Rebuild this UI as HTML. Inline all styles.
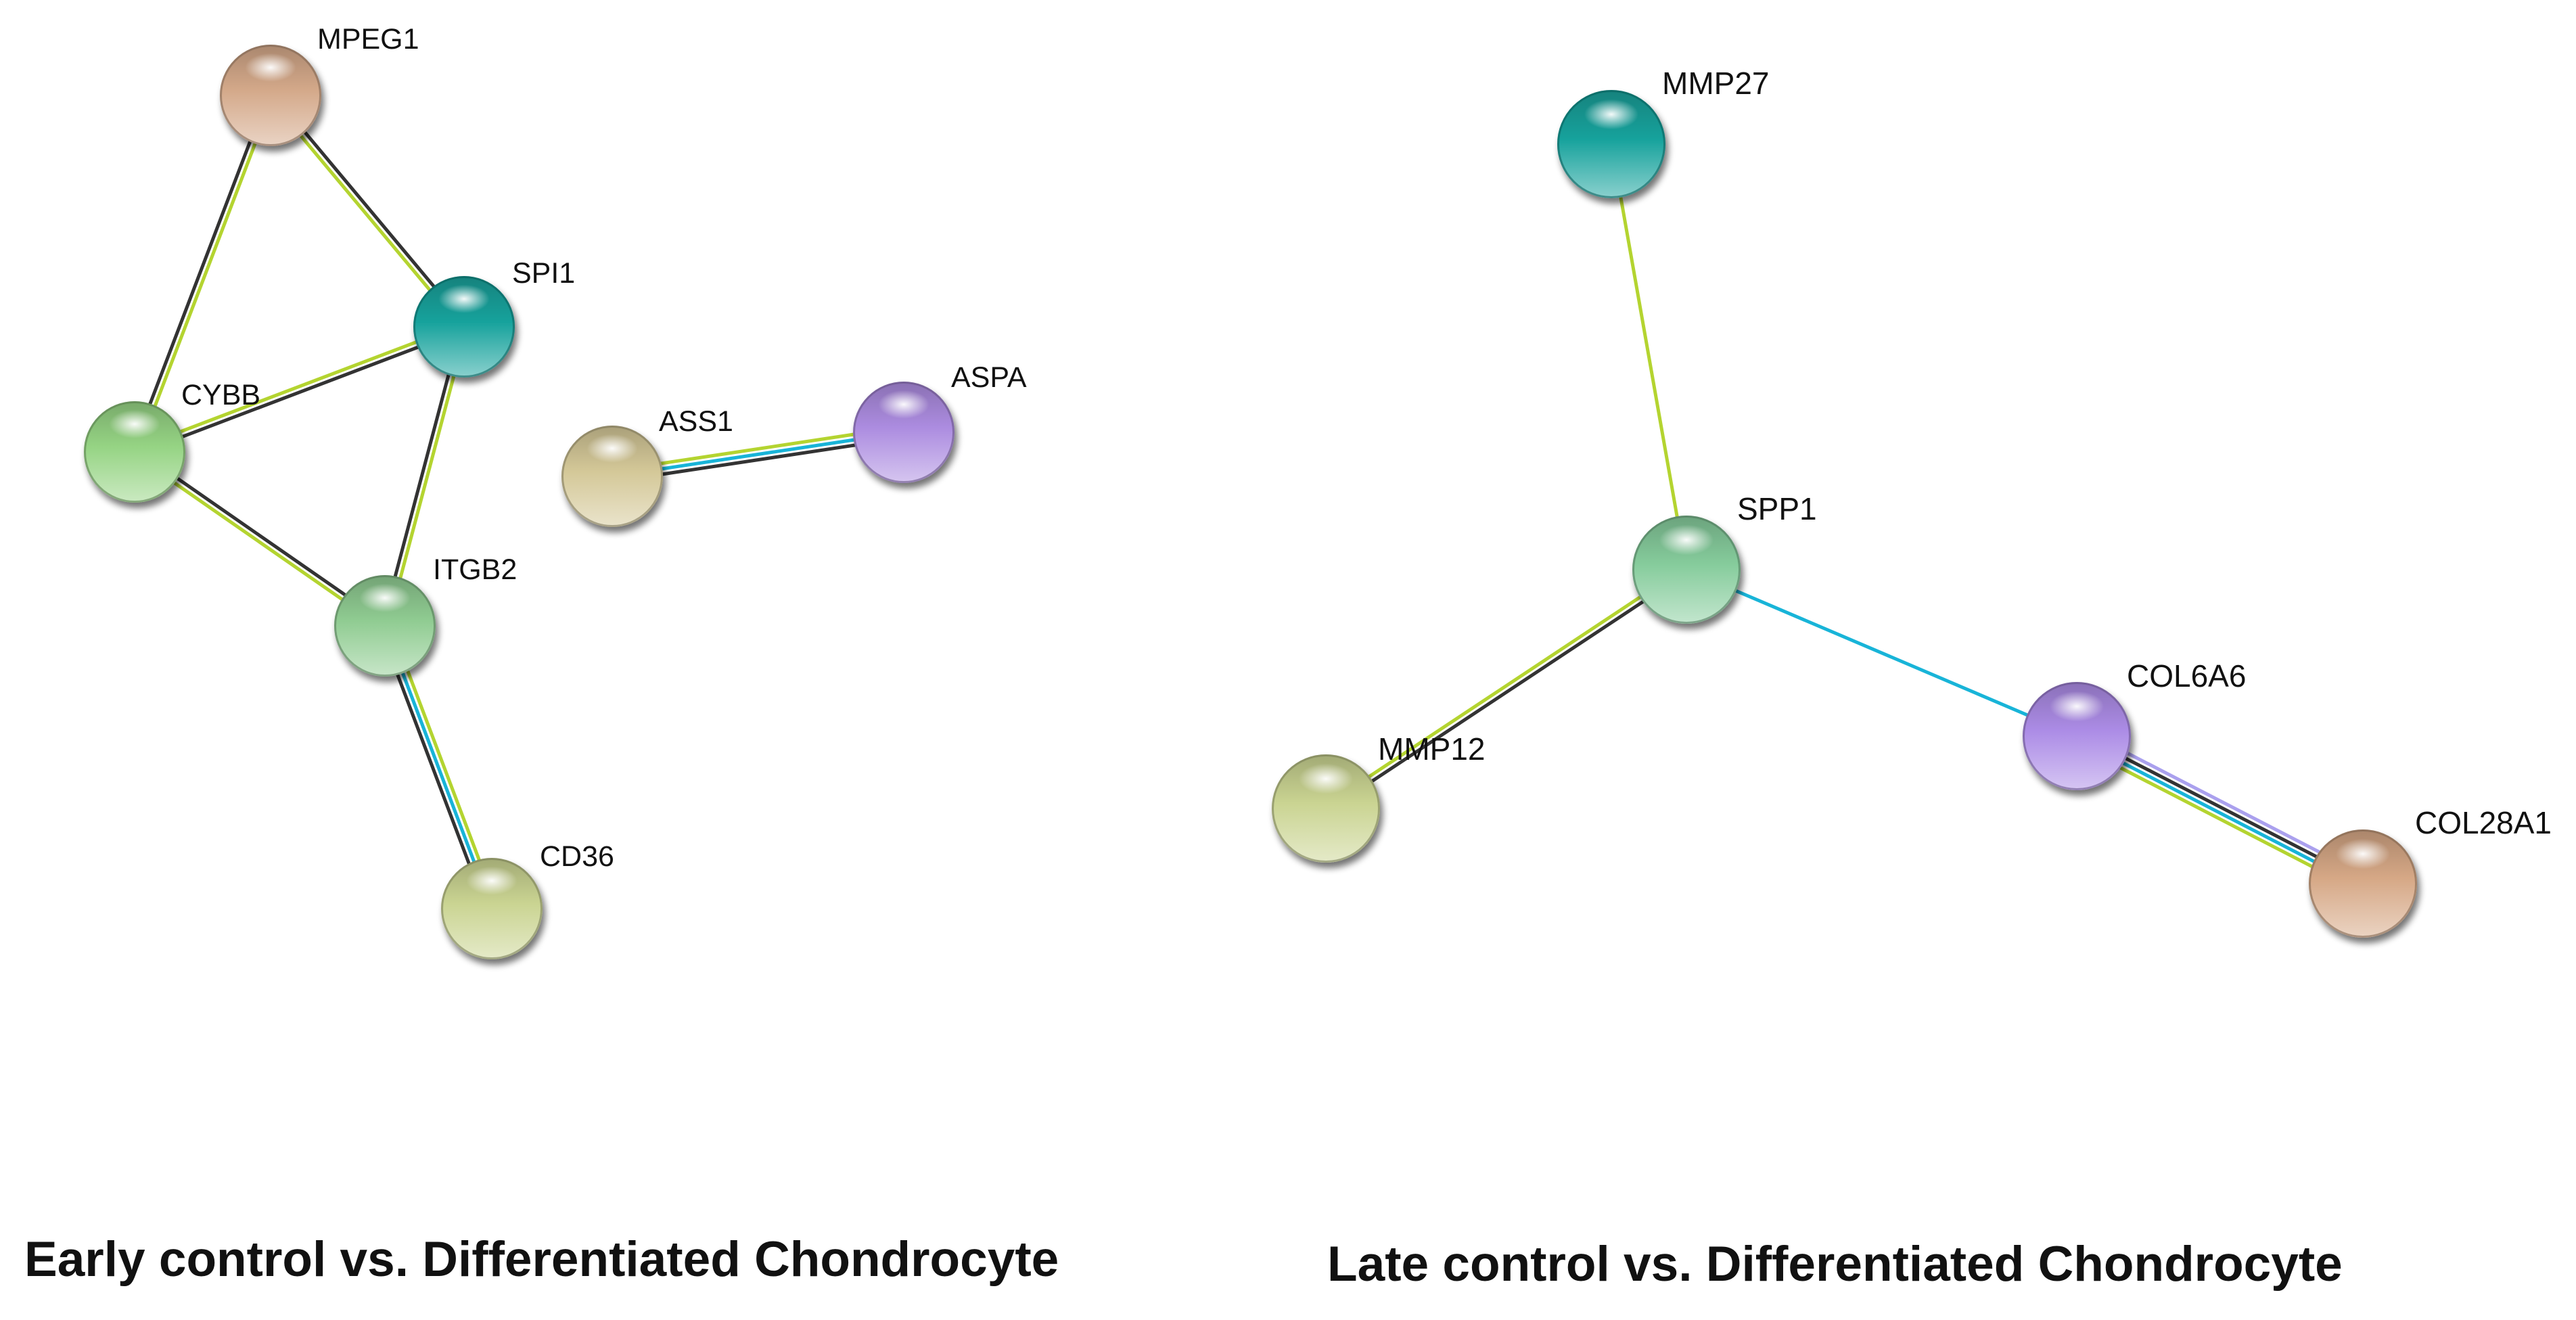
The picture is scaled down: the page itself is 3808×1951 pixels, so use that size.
<!DOCTYPE html>
<html><head><meta charset="utf-8"><style>
html,body{margin:0;padding:0;background:#fff;}
svg{display:block}
text{font-family:"Liberation Sans",Arial,sans-serif;fill:#111}
</style></head><body>
<svg id="s" width="3808" height="1951" viewBox="0 0 3808 1951" xmlns="http://www.w3.org/2000/svg">
<defs>
<filter id="sh" x="-30%" y="-30%" width="170%" height="170%"><feGaussianBlur in="SourceAlpha" stdDeviation="5"/><feOffset dx="4" dy="8"/><feComponentTransfer><feFuncA type="linear" slope="0.55"/></feComponentTransfer><feMerge><feMergeNode/><feMergeNode in="SourceGraphic"/></feMerge></filter>
<radialGradient id="hl" cx="0.5" cy="0.5" r="0.5"><stop offset="0" stop-color="#fff" stop-opacity="0.95"/><stop offset="1" stop-color="#fff" stop-opacity="0"/></radialGradient>
</defs>
<g id="edges"></g>
<g id="nodes"></g>
<text x="36" y="1886" font-size="73" font-weight="bold">Early control vs. Differentiated Chondrocyte</text>
<text x="1962" y="1893" font-size="73" font-weight="bold">Late control vs. Differentiated Chondrocyte</text>
</svg>
<script>
var N={
MPEG1:[400,141,75,'#d4a98a','MPEG1',469,72,43],
SPI1:[686,483,75,'#16a29c','SPI1',757,418,43],
CYBB:[199,668,75,'#96d484','CYBB',268,598,43],
ITGB2:[569,925,75,'#90cc92','ITGB2',640,856,43],
CD36:[727,1343,75,'#cad492','CD36',798,1280,43],
ASS1:[905,704,75,'#d4c898','ASS1',974,637,43],
ASPA:[1336,639,75,'#ac8ce0','ASPA',1406,572,43],
MMP27:[2382,213,80,'#16a29c','MMP27',2457,139,46],
SPP1:[2493,842,80,'#86cc9c','SPP1',2568,768,46],
MMP12:[1960,1195,80,'#cad492','MMP12',2037,1123,46],
COL6A6:[3070,1088,80,'#ac8ce6','COL6A6',3144,1015,46],
COL28A1:[3493,1306,80,'#d6a886','COL28A1',3570,1232,46]
};
var G='#b4d430',K='#333',C='#18b4d8',L='#aaa0ee';
var E=[['MPEG1','CYBB',[G,K]],['MPEG1','SPI1',[K,G]],['CYBB','SPI1',[G,K]],['SPI1','ITGB2',[G,K]],['CYBB','ITGB2',[K,G]],['ITGB2','CD36',[G,C,K]],['ASS1','ASPA',[G,C,K]],
['MMP27','SPP1',[G]],['SPP1','MMP12',[K,G]],['SPP1','COL6A6',[C]],['COL6A6','COL28A1',[L,K,C,G]]];
var ns='http://www.w3.org/2000/svg';
function el(t,a,p){var e=document.createElementNS(ns,t);for(var k in a)e.setAttribute(k,a[k]);p.appendChild(e);return e;}
function mix(h,f){var r=parseInt(h.substr(1,2),16),g=parseInt(h.substr(3,2),16),b=parseInt(h.substr(5,2),16);
r=Math.round(r+(255-r)*f);g=Math.round(g+(255-g)*f);b=Math.round(b+(255-b)*f);return 'rgb('+r+','+g+','+b+')';}
function dark(h,f){var r=parseInt(h.substr(1,2),16),g=parseInt(h.substr(3,2),16),b=parseInt(h.substr(5,2),16);
return 'rgb('+Math.round(r*f)+','+Math.round(g*f)+','+Math.round(b*f)+')';}
var eg=document.getElementById('edges'),ng=document.getElementById('nodes'),svg=document.getElementById('s');
E.forEach(function(e){var a=N[e[0]],b=N[e[1]];var dx=b[0]-a[0],dy=b[1]-a[1],l=Math.hypot(dx,dy);var px=-dy/l,py=dx/l;var n=e[2].length,sp=8;
e[2].forEach(function(c,i){var o=(i-(n-1)/2)*sp;el('line',{x1:a[0]+px*o,y1:a[1]+py*o,x2:b[0]+px*o,y2:b[1]+py*o,stroke:c,'stroke-width':5},eg);});});
var gi=0;
for(var k in N){var d=N[k];gi++;
var gr=el('linearGradient',{id:'g'+gi,x1:'0',y1:'0',x2:'0',y2:'1'},svg.querySelector('defs'));
el('stop',{offset:'0','stop-color':dark(d[3],0.8)},gr);
el('stop',{offset:'0.45','stop-color':d[3]},gr);
el('stop',{offset:'1','stop-color':mix(d[3],0.5)},gr);
var g=el('g',{filter:'url(#sh)'},ng);
el('circle',{cx:d[0],cy:d[1],r:d[2],fill:'url(#g'+gi+')'},g);
el('circle',{cx:d[0],cy:d[1],r:d[2]-1.5,fill:'none',stroke:dark(d[3],0.6),'stroke-opacity':0.6,'stroke-width':3},g);
el('ellipse',{cx:d[0],cy:d[1]-d[2]*0.55,rx:d[2]*0.5,ry:d[2]*0.28,fill:'url(#hl)'},ng);
var t=el('text',{x:d[5],y:d[6],'font-size':d[7]},ng);t.textContent=d[4];}
</script>
</body></html>
